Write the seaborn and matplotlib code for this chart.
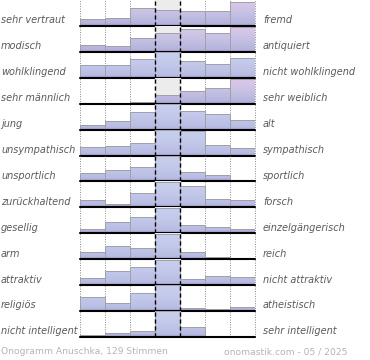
import numpy as np
import matplotlib
matplotlib.use('Agg')
import matplotlib.pyplot as plt
import matplotlib.transforms as mtransforms
from matplotlib.colors import LinearSegmentedColormap
import seaborn as sns

# Polar adjective pairs of the onogram
left_labels = ['sehr vertraut', 'modisch', 'wohlklingend', 'sehr männlich', 'jung',
               'unsympathisch', 'unsportlich', 'zurückhaltend', 'gesellig', 'arm',
               'attraktiv', 'religiös', 'nicht intelligent']
right_labels = ['fremd', 'antiquiert', 'nicht wohlklingend', 'sehr weiblich', 'alt',
                'sympathisch', 'sportlich', 'forsch', 'einzelgängerisch', 'reich',
                'nicht attraktiv', 'atheistisch', 'sehr intelligent']
scale_points = ['1', '2', '3', '4', '5', '6', '7']

# Relative vote heights per scale point
vertraut = [20, 24, 53, 47, 43, 43, 72]
modisch = [20, 16, 40, 56, 69, 55, 75]
wohlklingend = [39, 39, 57, 76, 49, 42, 60]
maennlich = [0, 0, 6, 27, 37, 48, 74]
jung = [15, 27, 51, 76, 54, 47, 29]
unsympathisch = [24, 27, 36, 76, 72, 32, 21]
unsportlich = [24, 33, 43, 76, 28, 18, 0]
zurueckhaltend = [22, 10, 44, 76, 64, 26, 22]
gesellig = [13, 33, 48, 76, 24, 18, 12]
arm = [22, 39, 34, 76, 22, 7, 0]
attraktiv = [20, 41, 54, 76, 17, 27, 23]
religioes = [41, 25, 53, 76, 10, 7, 11]
intelligent = [7, 13, 19, 76, 30, 4, 0]

rows = [vertraut, modisch, wohlklingend, maennlich, jung, unsympathisch, unsportlich,
        zurueckhaltend, gesellig, arm, attraktiv, religioes, intelligent]
pink_rows = {0, 1, 3}

sns.set_style('white')
plt.rcParams['font.family'] = ['DejaVu Sans']

pink_cmap = LinearSegmentedColormap.from_list(
    'pink', [(0, '#9c94c8'), (0.1, '#b6b4de'), (0.5, '#c6c2e4'), (1, '#e0c8e8')])
blue_cmap = LinearSegmentedColormap.from_list(
    'blue', [(0, '#9c98cc'), (0.1, '#b8bce2'), (0.5, '#c2c8ea'), (1, '#c8d0ee')])
grad = np.linspace(0, 1, 256).reshape(-1, 1)

fig = plt.figure(figsize=(3.7, 3.6), dpi=100)
axes = fig.subplots(len(rows), 1, gridspec_kw=dict(hspace=0))
fig.subplots_adjust(left=80 / 370, right=255 / 370, top=1.0, bottom=1 - 337 / 360)

ytop = 77
for i, ax in enumerate(axes):
    sns.barplot(x=scale_points, y=rows[i], ax=ax, width=1.0, color='#c0c4e6',
                edgecolor='#a0a0a8', linewidth=0.7, zorder=2)
    bars = list(ax.containers[0])

    ax.axvspan(2.5, 3.5, color='#ececec', zorder=0)
    for x in [-0.5, 0.5, 1.5, 4.5, 5.5, 6.5]:
        ax.axvline(x, color='#888888', ls=(0, (1, 1.5)), lw=0.7, zorder=0.5, clip_on=False)

    # vertical gradient fill in row coordinates
    cmap = pink_cmap if i in pink_rows else blue_cmap
    for patch in bars:
        x0 = patch.get_x()
        x1 = x0 + patch.get_width()
        im = ax.imshow(grad, origin='lower', extent=(x0, x1, 0, ytop), aspect='auto',
                       cmap=cmap, zorder=1.5, interpolation='bilinear')
        im.set_clip_path(patch)
        patch.set_facecolor('none')

    ax.axhline(0, color='black', lw=1.5, zorder=4, clip_on=False)
    for x in [2.5, 3.5]:
        ax.axvline(x, color='black', ls=(0, (3, 2)), lw=1.0, zorder=5, clip_on=False)

    ax.set_xlim(-0.5, 6.5)
    ax.set_ylim(0, ytop)
    ax.axis('off')

    trans = mtransforms.blended_transform_factory(fig.transFigure, ax.transAxes)
    ax.text(1 / 370, 0.1, left_labels[i], transform=trans, ha='left', va='baseline',
            fontsize=7.0, style='italic', color='#5a5a5a')
    ax.text(263 / 370, 0.1, right_labels[i], transform=trans, ha='left', va='baseline',
            fontsize=7.0, style='italic', color='#5a5a5a')

fig.text(1 / 370, 1 - 352 / 360, 'Onogramm Anuschka, 129 Stimmen', color='#b4b4b4',
         fontsize=6.6, va='center', ha='left')
fig.text(347 / 370, 1 - 352 / 360, 'onomastik.com - 05 / 2025', color='#b4b4b4',
         fontsize=6.6, va='center', ha='right')

fig.savefig('out.png', dpi=100)
